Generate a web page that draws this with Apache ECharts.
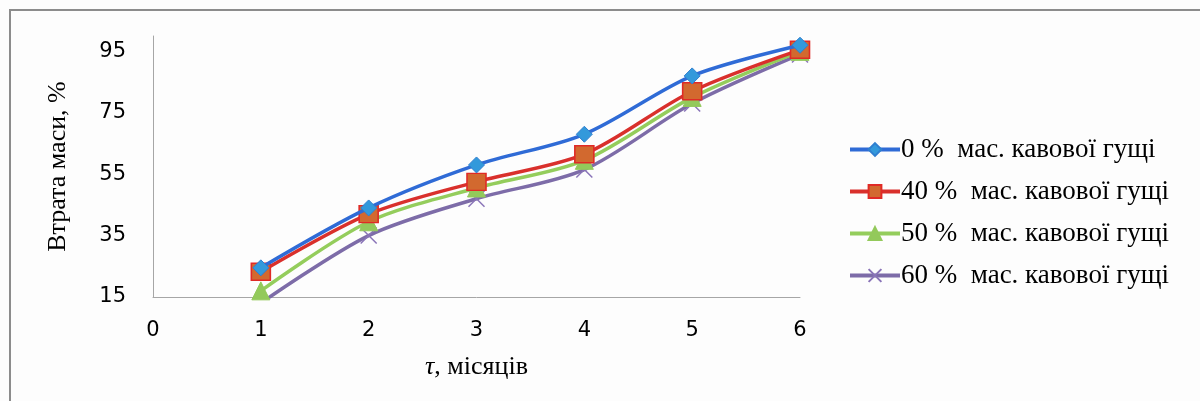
<!DOCTYPE html>
<html>
<head>
<meta charset="utf-8">
<script src="https://cdn.jsdelivr.net/npm/echarts@6/dist/echarts.min.js"></script>
<style>
  html, body { margin: 0; padding: 0; background: #fdfdfd; }
  #chart { width: 1200px; height: 401px; }
</style>
</head>
<body>
<div id="chart"></div>
<script>
// months
const months = [1, 2, 3, 4, 5, 6]
// mass loss, % for each coffee grounds share
const names = ['0 %  мас. кавової гущі', '40 %  мас. кавової гущі', '50 %  мас. кавової гущі', '60 %  мас. кавової гущі']
const loss0 = [24.5, 44, 58, 68, 87, 97]
const loss40 = [23.2, 42, 52.5, 61.5, 82, 95.5]
const loss50 = [17, 39.5, 50.5, 59.5, 80, 95]
const loss60 = [13, 35, 47, 56.5, 78, 94]
const yTicks = [15, 35, 55, 75, 95]

const pairs = arr => months.map((m, i) => [m, arr[i]])
const serif = '"Liberation Serif", "DejaVu Serif", serif'
const sans = '"DejaVu Sans", Verdana, sans-serif'

let chart = echarts.init(document.getElementById('chart'))

let option = {
  backgroundColor: '#fdfdfd',
  animation: false,
  grid: {
    left: 153,
    right: 400,
    top: 36,
    bottom: 104
  },
  graphic: [
    {
      type: 'rect',
      shape: { x: 10, y: 10, width: 1200, height: 400 },
      style: { fill: 'none', stroke: '#8c8c8c', lineWidth: 2 },
      silent: true
    }
  ],
  legend: {
    orient: 'vertical',
    left: 843,
    top: 131,
    itemWidth: 50,
    itemHeight: 16,
    itemGap: 15,
    data: names,
    lineStyle: { width: 4 },
    textStyle: {
      fontFamily: serif,
      fontSize: 27,
      color: '#000',
      padding: [0, 0, 0, -4]
    }
  },
  xAxis: {
    type: 'value',
    min: 0,
    max: 6,
    interval: 1,
    name: '{i|τ}, місяців',
    nameLocation: 'middle',
    nameGap: 57,
    nameTextStyle: {
      fontFamily: serif,
      fontSize: 26,
      color: '#000',
      rich: {
        i: { fontFamily: serif, fontSize: 26, fontStyle: 'italic', color: '#000' }
      }
    },
    axisLine: { lineStyle: { color: '#a6a6a6', width: 1 } },
    axisTick: { show: false },
    splitLine: { show: false },
    axisLabel: {
      margin: 23,
      fontFamily: sans,
      fontSize: 21,
      color: '#000'
    }
  },
  yAxis: {
    type: 'value',
    min: 15,
    max: 100,
    interval: 5,
    name: 'Втрата маси, %',
    nameLocation: 'middle',
    nameGap: 82,
    nameTextStyle: {
      fontFamily: serif,
      fontSize: 26,
      color: '#000'
    },
    axisLine: { show: true, lineStyle: { color: '#a6a6a6', width: 1 } },
    axisTick: { show: false },
    splitLine: { show: false },
    axisLabel: {
      margin: 27,
      fontFamily: sans,
      fontSize: 21,
      color: '#000',
      formatter(v) {
        return yTicks.includes(v) ? String(v) : ''
      }
    }
  },
  series: [
    {
      name: names[0],
      type: 'line',
      smooth: 0.3,
      data: pairs(loss0),
      symbol: 'diamond',
      symbolSize: 16,
      lineStyle: { color: '#2f6bd6', width: 3.5 },
      itemStyle: { color: '#3399db', borderColor: '#2f7fd0', borderWidth: 1 },
      z: 5
    },
    {
      name: names[1],
      type: 'line',
      smooth: 0.3,
      data: pairs(loss40),
      symbol: 'rect',
      symbolSize: [19, 17],
      lineStyle: { color: '#d9302c', width: 3.5 },
      itemStyle: { color: '#d2692f', borderColor: '#e02a26', borderWidth: 1.5 },
      z: 4
    },
    {
      name: names[2],
      type: 'line',
      smooth: 0.3,
      data: pairs(loss50),
      symbol: 'triangle',
      symbolSize: 18,
      lineStyle: { color: '#94cd5c', width: 3.5 },
      itemStyle: { color: '#93c95b', borderColor: '#93c95b', borderWidth: 1 },
      z: 3
    },
    {
      name: names[3],
      type: 'line',
      smooth: 0.3,
      data: pairs(loss60),
      symbol: 'path://M0,0 L10,10 M10,0 L0,10',
      symbolSize: 16,
      lineStyle: { color: '#7d6ca8', width: 3.5 },
      itemStyle: { color: 'rgba(0,0,0,0)', borderColor: '#8a74b8', borderWidth: 1.5 },
      z: 2
    }
  ]
}

chart.setOption(option)
window.addEventListener('resize', () => chart.resize())
</script>
</body>
</html>
